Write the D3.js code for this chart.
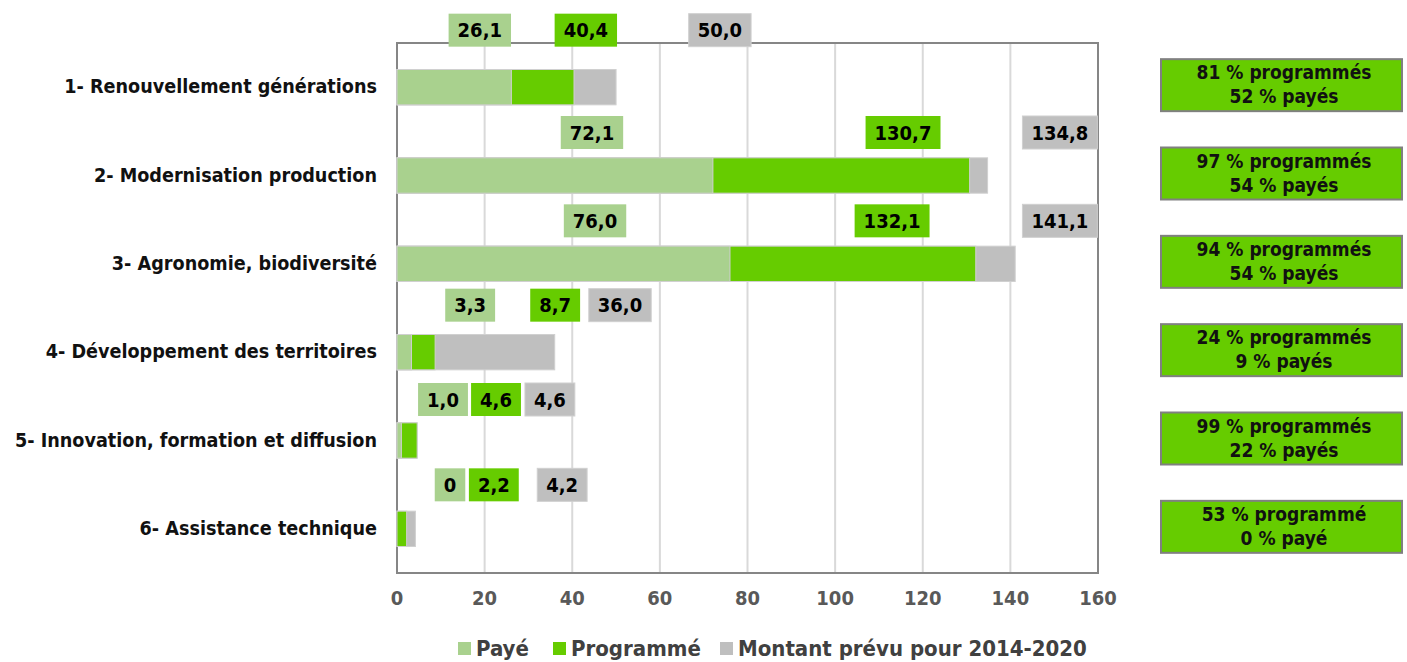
<!DOCTYPE html>
<html><head><meta charset="utf-8">
<script src="https://cdn.jsdelivr.net/npm/d3@7"></script>
<style>body{margin:0;background:#fff}svg{display:block}text{font-family:"DejaVu Sans Condensed","DejaVu Sans",sans-serif;font-weight:bold}</style>
</head><body><svg id="c" width="1407" height="662"></svg>
<script>
const categories = ["1- Renouvellement générations","2- Modernisation production","3- Agronomie, biodiversité","4- Développement des territoires","5- Innovation, formation et diffusion","6- Assistance technique"];
const paye = [26.1, 72.1, 76.0, 3.3, 1.0, 0];
const programme = [40.4, 130.7, 132.1, 8.7, 4.6, 2.2];
const prevu = [50.0, 134.8, 141.1, 36.0, 4.6, 4.2];
const payeTxt = ["26,1","72,1","76,0","3,3","1,0","0"];
const progTxt = ["40,4","130,7","132,1","8,7","4,6","2,2"];
const prevuTxt = ["50,0","134,8","141,1","36,0","4,6","4,2"];
// label anchor positions (in axis units) as placed in the original chart
const payeLabelAt = [18.9, 44.5, 45.2, 16.7, 10.5, 12.1];
const progLabelAt = [43.1, 115.5, 113.0, 36.1, 22.6, 22.1];
const prevuLabelAt = [73.7, 151.3, 151.3, 50.9, 34.9, 37.7];
const labelRise = [57, 43, 43, 47, 41, 44];
const rightLine1 = ["81 % programmés","97 % programmés","94 % programmés","24 % programmés","99 % programmés","53 % programmé"];
const rightLine2 = ["52 % payés","54 % payés","54 % payés","9 % payés","22 % payés","0 % payé"];
const ticks = [0,20,40,60,80,100,120,140,160];
const legendLabels = ["Payé","Programmé","Montant prévu pour 2014-2020"];

const colors = {paye:"#A9D18E", prog:"#66CC00", prevu:"#BFBFBF"};
const svg = d3.select("#c");
const x = d3.scaleLinear().domain([0,160]).range([397,1098]);
const y = d3.scaleBand().domain(categories).range([43,573]).paddingInner(0.6).paddingOuter(0.3);

// gridlines
svg.append("g").selectAll("line").data(ticks.slice(1,-1)).join("line")
  .attr("x1",d=>x(d)).attr("x2",d=>x(d)).attr("y1",43).attr("y2",573)
  .attr("stroke","#D9D9D9").attr("stroke-width",2);
// plot border
svg.append("rect").attr("x",x(0)).attr("y",43).attr("width",x(160)-x(0)).attr("height",530)
  .attr("fill","none").attr("stroke","#868686").attr("stroke-width",2);

// bars (overlapping)
const series = [[prevu,colors.prevu],[programme,colors.prog],[paye,colors.paye]];
series.forEach(([vals,col])=>{
  svg.append("g").selectAll("rect").data(categories).join("rect")
    .attr("x",x(0)).attr("y",d=>y(d)).attr("width",(d,i)=>x(vals[i])-x(0))
    .attr("height",y.bandwidth()).attr("fill",col)
    .attr("stroke","#D0D0D0").attr("stroke-width",1);
});

// axis labels
svg.append("g").selectAll("text").data(ticks).join("text")
  .attr("x",d=>x(d)).attr("y",605).attr("text-anchor","middle")
  .attr("font-size",20).attr("fill","#595959").text(d=>d);

// category labels
svg.append("g").selectAll("text").data(categories).join("text")
  .attr("x",377).attr("y",d=>y(d)+y.bandwidth()/2+6).attr("text-anchor","end")
  .attr("font-size",19.6).attr("fill","#111").text(d=>d);

// value labels
function valueLabels(txt, at, col){
  const g = svg.append("g");
  categories.forEach((c,i)=>{
    const cy = y(c)+y.bandwidth()/2 - labelRise[i];
    const t = g.append("text").attr("x",x(at[i])).attr("y",cy+7).attr("text-anchor","middle")
      .attr("font-size",20).attr("fill","#000").text(txt[i]);
    const w = t.node().getComputedTextLength();
    g.insert("rect","text").attr("x",x(at[i])-w/2-9).attr("y",cy-16.5).attr("width",w+18).attr("height",33)
      .attr("fill",col).attr("stroke",col==colors.prevu?"#D0D0D0":"none");
  });
}
valueLabels(payeTxt,payeLabelAt,colors.paye);
valueLabels(progTxt,progLabelAt,colors.prog);
valueLabels(prevuTxt,prevuLabelAt,colors.prevu);

// right boxes
const rg = svg.append("g");
categories.forEach((c,i)=>{
  const cy = y(c)+y.bandwidth()/2 - 2;
  rg.append("rect").attr("x",1161).attr("y",cy-26).attr("width",241).attr("height",52)
    .attr("fill","#66CC00").attr("stroke","#808080").attr("stroke-width",2);
  rg.append("text").attr("x",1284).attr("y",cy-6).attr("text-anchor","middle").attr("font-size",19).attr("fill","#111").text(rightLine1[i]);
  rg.append("text").attr("x",1284).attr("y",cy+18).attr("text-anchor","middle").attr("font-size",19).attr("fill","#111").text(rightLine2[i]);
});

// legend
const lg = svg.append("g");
const legCols = [colors.paye,colors.prog,colors.prevu];
const legX = [458,553,720];
legendLabels.forEach((l,i)=>{
  lg.append("rect").attr("x",legX[i]).attr("y",642).attr("width",13).attr("height",13).attr("fill",legCols[i]);
  lg.append("text").attr("x",legX[i]+18).attr("y",656).attr("font-size",22).attr("fill","#404040").text(l);
});
</script></body></html>
